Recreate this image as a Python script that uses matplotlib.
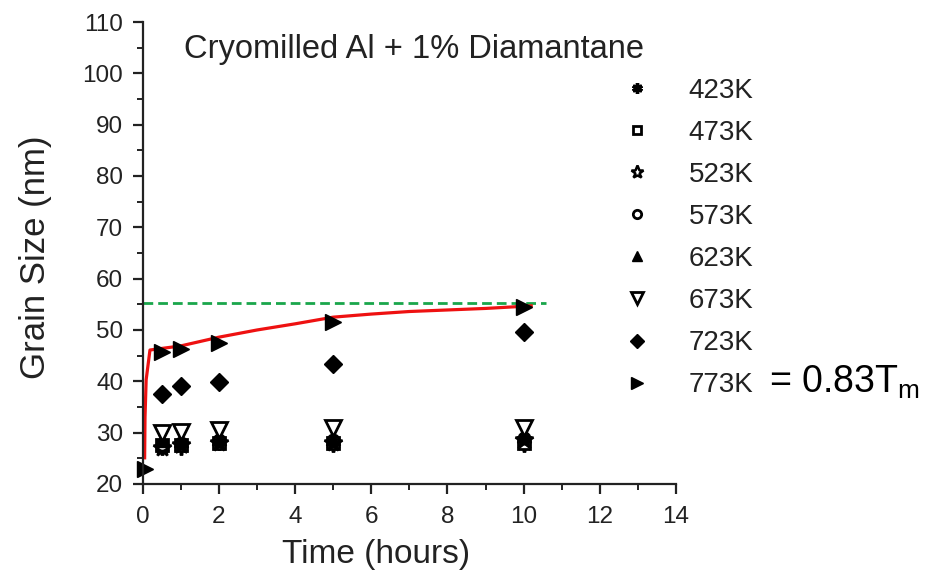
import matplotlib
matplotlib.use("Agg")
import matplotlib.pyplot as plt

# annealing time (hours) and grain size (nm) per temperature
times = [0.5, 1, 2, 5, 10]
d423 = [27.0, 27.0, 28.0, 27.5, 27.5]
d473 = [27.5, 27.5, 28.0, 28.0, 28.0]
d523 = [27.0, 27.5, 28.0, 28.0, 28.5]
d573 = [27.5, 28.0, 28.5, 28.5, 29.0]
d623 = [28.5, 28.5, 29.0, 29.0, 29.5]
d673 = [30.0, 30.2, 30.6, 31.0, 31.0]
d723 = [37.5, 39.1, 39.9, 43.4, 49.6]
times_773 = [0.05, 0.5, 1, 2, 5, 10]
d773 = [23.0, 45.7, 46.3, 47.5, 51.6, 54.5]

# red fit curve
fit_t = [0.05, 0.06, 0.09, 0.19, 1, 2, 3, 4, 5, 6, 7, 8, 9, 10.2]
fit_d = [25.1, 33.0, 40.3, 46.1, 46.9, 48.6, 50.0, 51.2, 52.5, 53.1, 53.6, 53.9, 54.2, 54.7]

# saturation level (green dashed line)
sat_level = 55.2
sat_end = 10.6

labels = ["423K", "473K", "523K", "573K", "623K", "673K", "723K", "773K"]

plt.rcParams['font.family'] = ['Liberation Sans', 'DejaVu Sans']
ink = '#222222'

fig = plt.figure(figsize=(9.28, 5.79), dpi=100)
ax = fig.add_axes([0.1538, 0.1641, 0.5746, 0.7979])

ax.hlines(sat_level, 0, sat_end, colors='#1aa64b', linewidth=2.0,
          linestyles=(0, (3.5, 1.8)), zorder=1)
ax.plot(fit_t, fit_d, color='#ee1111', linewidth=2.3, zorder=2)

ms = 10
ax.plot(times, d423, ls='none', marker=(6, 2, 0), ms=ms, mew=2.5, color='k', label=labels[0], clip_on=False)
ax.plot(times, d473, ls='none', marker='s', ms=ms - 2, mew=2, mfc='white', mec='k', label=labels[1], clip_on=False)
ax.plot(times, d523, ls='none', marker='*', ms=ms + 3, mew=1.8, mfc='white', mec='k', label=labels[2], clip_on=False)
ax.plot(times, d573, ls='none', marker='o', ms=ms - 2, mew=2, mfc='white', mec='k', label=labels[3], clip_on=False)
ax.plot(times, d623, ls='none', marker='^', ms=ms, color='k', label=labels[4], clip_on=False)
ax.plot(times, d673, ls='none', marker='v', ms=ms + 1, mew=2, mfc='white', mec='k', label=labels[5], clip_on=False)
ax.plot(times, d723, ls='none', marker='D', ms=ms - 1, color='k', label=labels[6], clip_on=False)
ax.plot(times_773, d773, ls='none', marker='>', ms=ms + 1, color='k', label=labels[7], clip_on=False)

ax.set_xlim(0, 14)
ax.set_ylim(20, 110)
ax.set_xticks(range(0, 15, 2))
ax.set_xticks(range(1, 14, 2), minor=True)
ax.set_yticks(range(20, 111, 10))
ax.set_yticks(range(25, 110, 10), minor=True)

for side in ['top', 'right']:
    ax.spines[side].set_visible(False)
for side in ['left', 'bottom']:
    ax.spines[side].set_linewidth(1.6)
    ax.spines[side].set_color(ink)

ax.tick_params(which='major', direction='out', length=7, width=1.6, colors=ink,
               labelsize=17.5)
ax.tick_params(axis='y', which='major', pad=7)
ax.tick_params(axis='x', which='major', pad=9)
ax.tick_params(which='minor', direction='out', length=4, width=1.4, colors=ink)

ax.set_xlabel("Time (hours)", fontsize=24, color=ink)
ax.xaxis.set_label_coords(0.4375, -0.118)
ax.set_ylabel("Grain Size (nm)", fontsize=25, color=ink)
ax.yaxis.set_label_coords(-0.17, 0.49)

ax.text(0.077, 0.975, "Cryomilled Al + 1% Diamantane", transform=ax.transAxes,
        fontsize=23.5, color=ink, va='top', ha='left')

leg = fig.legend(loc='upper left', bbox_to_anchor=(0.657, 0.89), frameon=False,
                 fontsize=20, markerscale=0.75, handlelength=1.0, handletextpad=1.35,
                 labelspacing=0.58, borderpad=0)
for txt in leg.get_texts():
    txt.set_color(ink)

fig.text(0.829, 0.34, r"= 0.83T$_\mathregular{m}$", fontsize=27, color='k',
         va='center', ha='left')

fig.savefig("out.png", dpi=100)
